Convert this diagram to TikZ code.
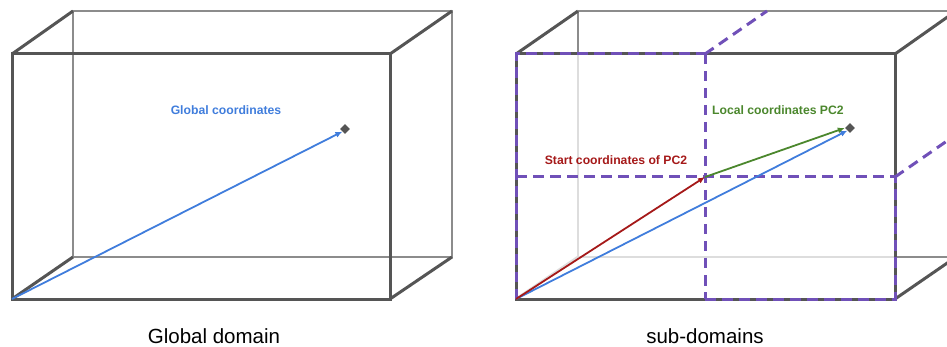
\documentclass[tikz,border=0pt]{standalone}
\usepackage{fontspec}
\setmainfont{Liberation Sans}
\usetikzlibrary{arrows.meta,shapes.geometric}
\definecolor{frontgray}{RGB}{85,85,85}
\definecolor{backgray}{RGB}{140,140,140}
\definecolor{hidgray}{RGB}{221,221,221}
\definecolor{vblue}{RGB}{64,125,220}
\definecolor{vred}{RGB}{165,25,25}
\definecolor{vgreen}{RGB}{75,135,45}
\definecolor{vpurple}{RGB}{112,80,184}
\tikzset{
  front/.style={draw=frontgray, line width=3pt, line join=miter},
  back/.style={draw=backgray, line width=2.7pt},
  hidden/.style={draw=hidgray, line width=2.7pt},
  split/.style={draw=vpurple, line width=3pt, dash pattern=on 10.5pt off 6.5pt},
  vec/.style={line width=1.8pt, -{Latex[length=7pt,width=6pt]}},
  pt/.style={diamond, fill=frontgray, inner sep=0pt, minimum size=10pt},
  lbl/.style={font=\bfseries\fontsize{12.2}{14}\selectfont, inner sep=0pt},
  captext/.style={font=\fontsize{20.5}{24}\selectfont, inner sep=0pt, anchor=base}
}
\begin{document}
\begin{tikzpicture}[x=1pt,y=-1pt]
\useasboundingbox (0,0) rectangle (947,347);
\clip (0,0) rectangle (947,347);
% ---------------- left box ----------------
\coordinate (LA) at (12,54);   \coordinate (LB) at (390,54);
\coordinate (LC) at (390,299); \coordinate (LD) at (12,299);
\coordinate (LA2) at (73,11);  \coordinate (LB2) at (452,11);
\coordinate (LC2) at (452,257);\coordinate (LD2) at (73,257);
\draw[back] (LA2) -- (LB2) -- (LC2) -- (LD2) -- cycle;
\draw[front] (LA) -- (LA2);
\draw[front] (LB) -- (LB2);
\draw[front] (LC) -- (LC2);
\draw[front] (LD) -- (LD2);
\draw[front] (LA) -- (LB) -- (LC) -- (LD) -- cycle;
\node[pt] (gp) at (345,129) {};
\draw[vec, vblue] (LD) -- (gp.south west);
\node[lbl, text=vblue] (glab) at (226,110) {Global coordinates};
\node[captext] (gcap) at (214,343) {Global domain};
% ---------------- right box ----------------
\coordinate (RA) at (516,54);   \coordinate (RB) at (895,54);
\coordinate (RC) at (895,299);  \coordinate (RD) at (516,299);
\coordinate (RA2) at (578,11);  \coordinate (RB2) at (956,11);
\coordinate (RC2) at (956,257); \coordinate (RD2) at (578,257);
\coordinate (RBm) at (895,257);
\coordinate (RAm) at (578,54);
\draw[back] (RA2) -- (RB2);
\draw[back] (RA2) -- (RAm);
\draw[hidden] (RAm) -- (RD2) -- (RBm);
\draw[back] (RBm) -- (RC2);
\draw[hidden] (RD) -- (RD2);
\draw[front] (RA) -- (RA2);
\draw[front] (RB) -- (RB2);
\draw[front] (RC) -- (RC2);
\draw[front] (RA) -- (RB) -- (RC) -- (RD) -- cycle;
% sub-domain splits
\coordinate (MT) at (705,54);  \coordinate (MB) at (705,299);
\coordinate (ML) at (516,177); \coordinate (MR) at (895,177);
\coordinate (MT2) at (767,11); \coordinate (MR2) at (957,134);
\draw[split] (RD) -- (RA) -- (MT);
\draw[split] (MB) -- (RC) -- (MR);
\draw[split] (MT) -- (MB);
\draw[split] (ML) -- (MR);
\draw[split] (MT) -- (MT2);
\draw[split] (MR) -- (MR2);
% vectors
\coordinate (PC) at (705,177);
\node[pt] (lp) at (850,128) {};
\draw[vec, vblue] (RD) -- (lp.south west);
\draw[vec, vred] (RD) -- (PC);
\draw[vec, vgreen] (PC) -- (lp.west);
\node[lbl, text=vred] (slab) at (616,160) {Start coordinates of PC2};
\node[lbl, text=vgreen, anchor=west] (llab) at (712,110) {Local coordinates PC2};
\node[captext] (scap) at (705,343) {sub-domains};
\end{tikzpicture}
\end{document}
